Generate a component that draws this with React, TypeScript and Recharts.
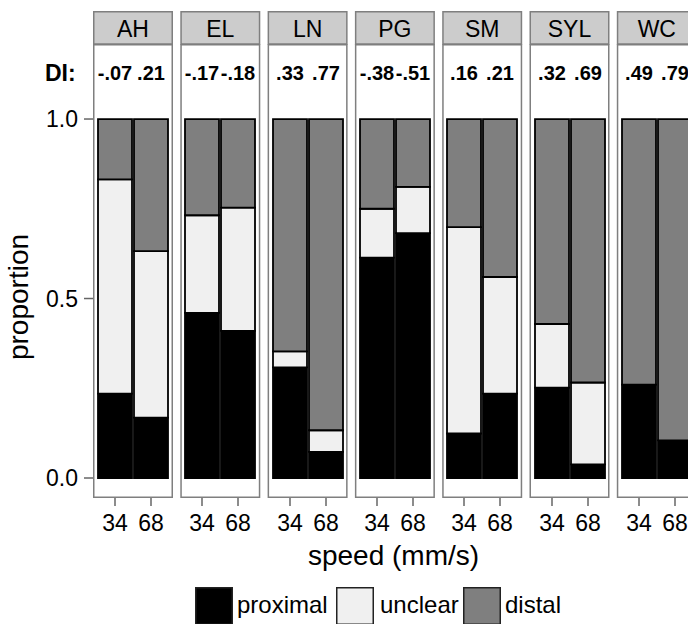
import { BarChart, Bar, XAxis, YAxis, LabelList } from "recharts";

const sites = ["AH", "EL", "LN", "PG", "SM", "SYL", "WC"];
const speeds = ["34", "68"];

// per site: [34 mm/s, 68 mm/s]
const proximal = [
  [0.235, 0.168],
  [0.46, 0.41],
  [0.308, 0.073],
  [0.614, 0.682],
  [0.124, 0.235],
  [0.252, 0.038],
  [0.26, 0.105],
];
const unclear = [
  [0.597, 0.464],
  [0.272, 0.343],
  [0.045, 0.06],
  [0.136, 0.129],
  [0.575, 0.325],
  [0.177, 0.228],
  [0, 0],
];
const distal = [
  [0.168, 0.368],
  [0.268, 0.247],
  [0.647, 0.867],
  [0.25, 0.189],
  [0.301, 0.44],
  [0.571, 0.734],
  [0.74, 0.895],
];
const di = [
  ["-.07", ".21"],
  ["-.17", "-.18"],
  [".33", ".77"],
  ["-.38", "-.51"],
  [".16", ".21"],
  [".32", ".69"],
  [".49", ".79"],
];

const seriesNames = ["proximal", "unclear", "distal"];
const seriesColors = ["#000000", "#f0f0f0", "#7f7f7f"];
const yTicks = [0, 0.5, 1];

const FONT = '"Liberation Sans", Arial, Helvetica, sans-serif';
const PANEL_X0 = 93;
const PANEL_STEP = 87.3;
const PANEL_W = 80;
const PANEL_TOP = 44;
const PANEL_H = 454;
const AXIS_H = 60;
const Y_AXIS_W = 93;
const Y_DOMAIN: [number, number] = [-0.0557, 1.209];

// legend item x positions (key box, label)
const legendX = [
  [195, 237],
  [336, 380],
  [463, 505],
];

function panelData(i: number) {
  return speeds.map((s, j) => ({
    speed: s,
    proximal: proximal[i][j],
    unclear: unclear[i][j],
    distal: distal[i][j],
    di: di[i][j],
  }));
}

function Panel({ index }: { index: number }) {
  const first = index === 0;
  const left = PANEL_X0 + index * PANEL_STEP - (first ? Y_AXIS_W : 0);
  return (
    <div style={{ position: "absolute", left, top: PANEL_TOP }}>
      <BarChart
        width={PANEL_W + (first ? Y_AXIS_W : 0)}
        height={PANEL_H + AXIS_H}
        data={panelData(index)}
        margin={{ top: 0, right: 0, bottom: 0, left: 0 }}
      >
        <XAxis
          dataKey="speed"
          height={AXIS_H}
          padding={{ left: 4, right: 4 }}
          axisLine={false}
          tickSize={8}
          tickMargin={9}
          tickLine={{ stroke: "#666", strokeWidth: 1.5 }}
          tick={{ fontSize: 23, fill: "#000" }}
          interval={0}
        />
        <YAxis
          hide={!first}
          width={first ? Y_AXIS_W : 0}
          type="number"
          domain={Y_DOMAIN}
          allowDataOverflow
          ticks={yTicks}
          tickFormatter={(v: number) => v.toFixed(1)}
          axisLine={false}
          tickSize={9}
          tickMargin={6}
          tickLine={{ stroke: "#666", strokeWidth: 1.5 }}
          tick={{ fontSize: 23, fill: "#000" }}
        />
        {seriesNames.map((name, k) => (
          <Bar
            key={name}
            dataKey={name}
            stackId="s"
            fill={seriesColors[k]}
            stroke="#000"
            strokeWidth={1.8}
            barSize={34}
            isAnimationActive={false}
          >
            {k === seriesNames.length - 1 && (
              <LabelList
                dataKey="di"
                position="top"
                offset={39}
                fontSize={20}
                fontWeight="bold"
                fill="#000"
              />
            )}
          </Bar>
        ))}
      </BarChart>
    </div>
  );
}

export default function App() {
  return (
    <div
      style={{
        position: "absolute",
        left: 0,
        top: 0,
        width: 688,
        height: 624,
        overflow: "hidden",
        background: "#fff",
        fontFamily: FONT,
      }}
    >
      <svg width={688} height={624} style={{ position: "absolute", left: 0, top: 0 }}>
        {sites.map((s, i) => {
          const x = PANEL_X0 + i * PANEL_STEP;
          return (
            <g key={s}>
              <rect x={x + 0.75} y={PANEL_TOP + 0.75} width={PANEL_W - 1.5} height={PANEL_H - 1.5} fill="none" stroke="#7f7f7f" strokeWidth={1.5} />
              <rect x={x + 0.75} y={11.75} width={PANEL_W - 1.5} height={32.25} fill="#cccccc" stroke="#7f7f7f" strokeWidth={1.5} />
              <text x={x + PANEL_W / 2} y={37} textAnchor="middle" fontSize={23} fill="#000">
                {s}
              </text>
            </g>
          );
        })}
        <text x={45} y={81} fontSize={23} fontWeight="bold" fill="#000">
          DI:
        </text>
        <text x={28} y={297} fontSize={28} textAnchor="middle" fill="#000" transform="rotate(-90 28 297)">
          proportion
        </text>
        <text x={393.5} y={565} fontSize={28} textAnchor="middle" fill="#000">
          speed (mm/s)
        </text>
        {seriesNames.map((name, k) => (
          <g key={name}>
            <rect x={legendX[k][0] + 0.75} y={587.75} width={36.5} height={36.5} fill={seriesColors[k]} stroke="#222" strokeWidth={1.5} />
            <text x={legendX[k][1]} y={613} fontSize={24} fill="#000">
              {name}
            </text>
          </g>
        ))}
      </svg>
      {sites.map((s, i) => (
        <Panel key={s} index={i} />
      ))}
    </div>
  );
}
